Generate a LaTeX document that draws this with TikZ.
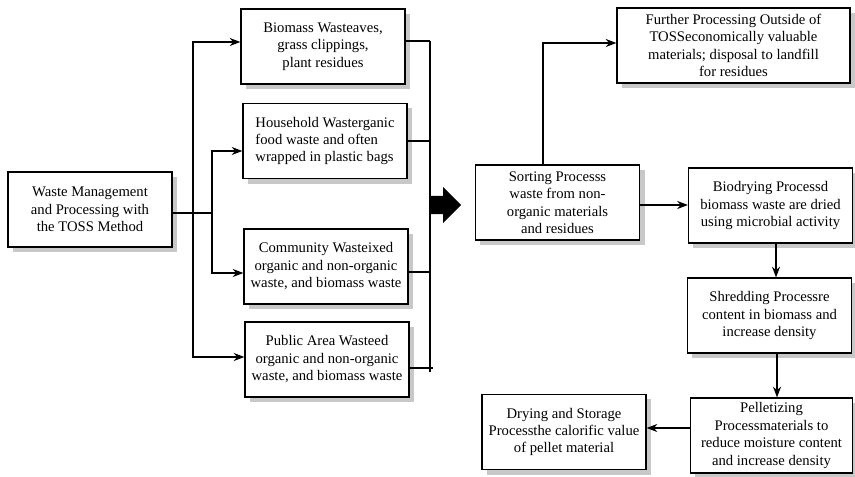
\documentclass[tikz,border=0pt]{standalone}
\usepackage{fontspec}
\setmainfont{Liberation Serif}
\usetikzlibrary{arrows.meta}
\definecolor{shadowgray}{RGB}{200,200,200}
\begin{document}
\begin{tikzpicture}[x=0.75pt,y=-0.75pt,
  box/.style={draw=black,line width=0.9pt,fill=white,minimum width=123pt,minimum height=56.25pt,
    align=center,inner sep=2pt,font=\fontsize{11}{13.1}\selectfont},
  boxshadow/.style={fill=shadowgray,draw=none},
  arr/.style={line width=1.1pt,-{Stealth[length=8pt,width=6pt,inset=2.5pt]}},
  bus/.style={line width=0.8pt},
  lnk/.style={line width=0.9pt}]
\useasboundingbox (0,0) rectangle (855,477);
% shadows (drawn first, offset 5px right and down)
\fill[boxshadow] (13,177) rectangle (177,252);
\fill[boxshadow] (246,14) rectangle (410,89);
\fill[boxshadow] (248,108) rectangle (412,184);
\fill[boxshadow] (249,234) rectangle (413,309);
\fill[boxshadow] (250,327) rectangle (414,402);
\fill[boxshadow] (480,170) rectangle (645,245);
\fill[boxshadow] (622,13) rectangle (855,88);
\fill[boxshadow] (693,173) rectangle (855,248);
\fill[boxshadow] (692,283) rectangle (855,358);
\fill[boxshadow] (695,403) rectangle (855,477);
\fill[boxshadow] (487,399) rectangle (651,475);
% nodes
\node[box] (main) at (90,209.5) {Waste Management\\and Processing with\\the TOSS Method};
\node[box] (bio) at (323,46.5) {Biomass Wasteaves,\\grass clippings,\\plant residues};
\node[box,align=left] (house) at (325,141) {Household Wasterganic\\food waste and often\\wrapped in plastic bags};
\node[box] (comm) at (326,266.5) {Community Wasteixed\\organic and non-organic\\waste, and biomass waste};
\node[box] (pub) at (327,359.5) {Public Area Wasteed\\organic and non-organic\\waste, and biomass waste};
\node[box] (sort) at (557.5,202.5) {Sorting Processs\\waste from non-\\organic materials\\and residues};
\node[box,minimum width=174.75pt] (further) at (733.5,45.5) {Further Processing Outside of\\TOSSeconomically valuable\\materials; disposal to landfill\\for residues};
\node[box] (biod) at (770.5,205.5) {Biodrying Processd\\biomass waste are dried\\using microbial activity};
\node[box] (shred) at (769.5,315.5) {Shredding Processre\\content in biomass and\\increase density};
\node[box,minimum width=122pt] (pellet) at (771.5,435.5) {Pelletizing\\Processmaterials to\\reduce moisture content\\and increase density};
\node[box] (dry) at (564,432) {Drying and Storage\\Processthe calorific value\\of pellet material};
% left connectors
\coordinate (j1) at (212,213);
\coordinate (j2) at (193,213);
\draw[lnk] (main.east |- j1) -- (j1);
\draw[arr] (j1) -- (212,151) -- (house.west |- 0,151);
\draw[arr] (j1) -- (212,273) -- (comm.west |- 0,273);
\draw[arr] (j2) -- (193,42) -- (bio.west |- 0,42);
\draw[arr] (j2) -- (193,357) -- (pub.west |- 0,357);
% right bus
\coordinate (b1) at (430,41);
\coordinate (b2) at (430,372);
\draw[bus] (b1) -- (b2);
\draw[bus] (bio.east |- b1) -- (b1);
\draw[bus] (house.east |- 0,141) -- (430,141);
\draw[bus] (comm.east |- 0,272) -- (430,272);
\draw[bus] (pub.east |- 0,368) -- (433,368);
% big arrow
\fill[black] (431,196) -- (443,196) -- (443,187) -- (461,205) -- (443,223) -- (443,214) -- (431,214) -- cycle;
% right connectors
\draw[arr] (sort.north -| 543,0) -- (543,43) -- (further.west |- 0,43);
\draw[arr] (sort.east |- 0,205) -- (biod.west |- 0,205);
\draw[arr] (biod.south -| 776,0) -- (shred.north -| 776,0);
\draw[arr] (shred.south -| 777,0) -- (pellet.north -| 777,0);
\draw[arr] (pellet.west |- 0,428) -- (dry.east |- 0,428);
\end{tikzpicture}
\end{document}
